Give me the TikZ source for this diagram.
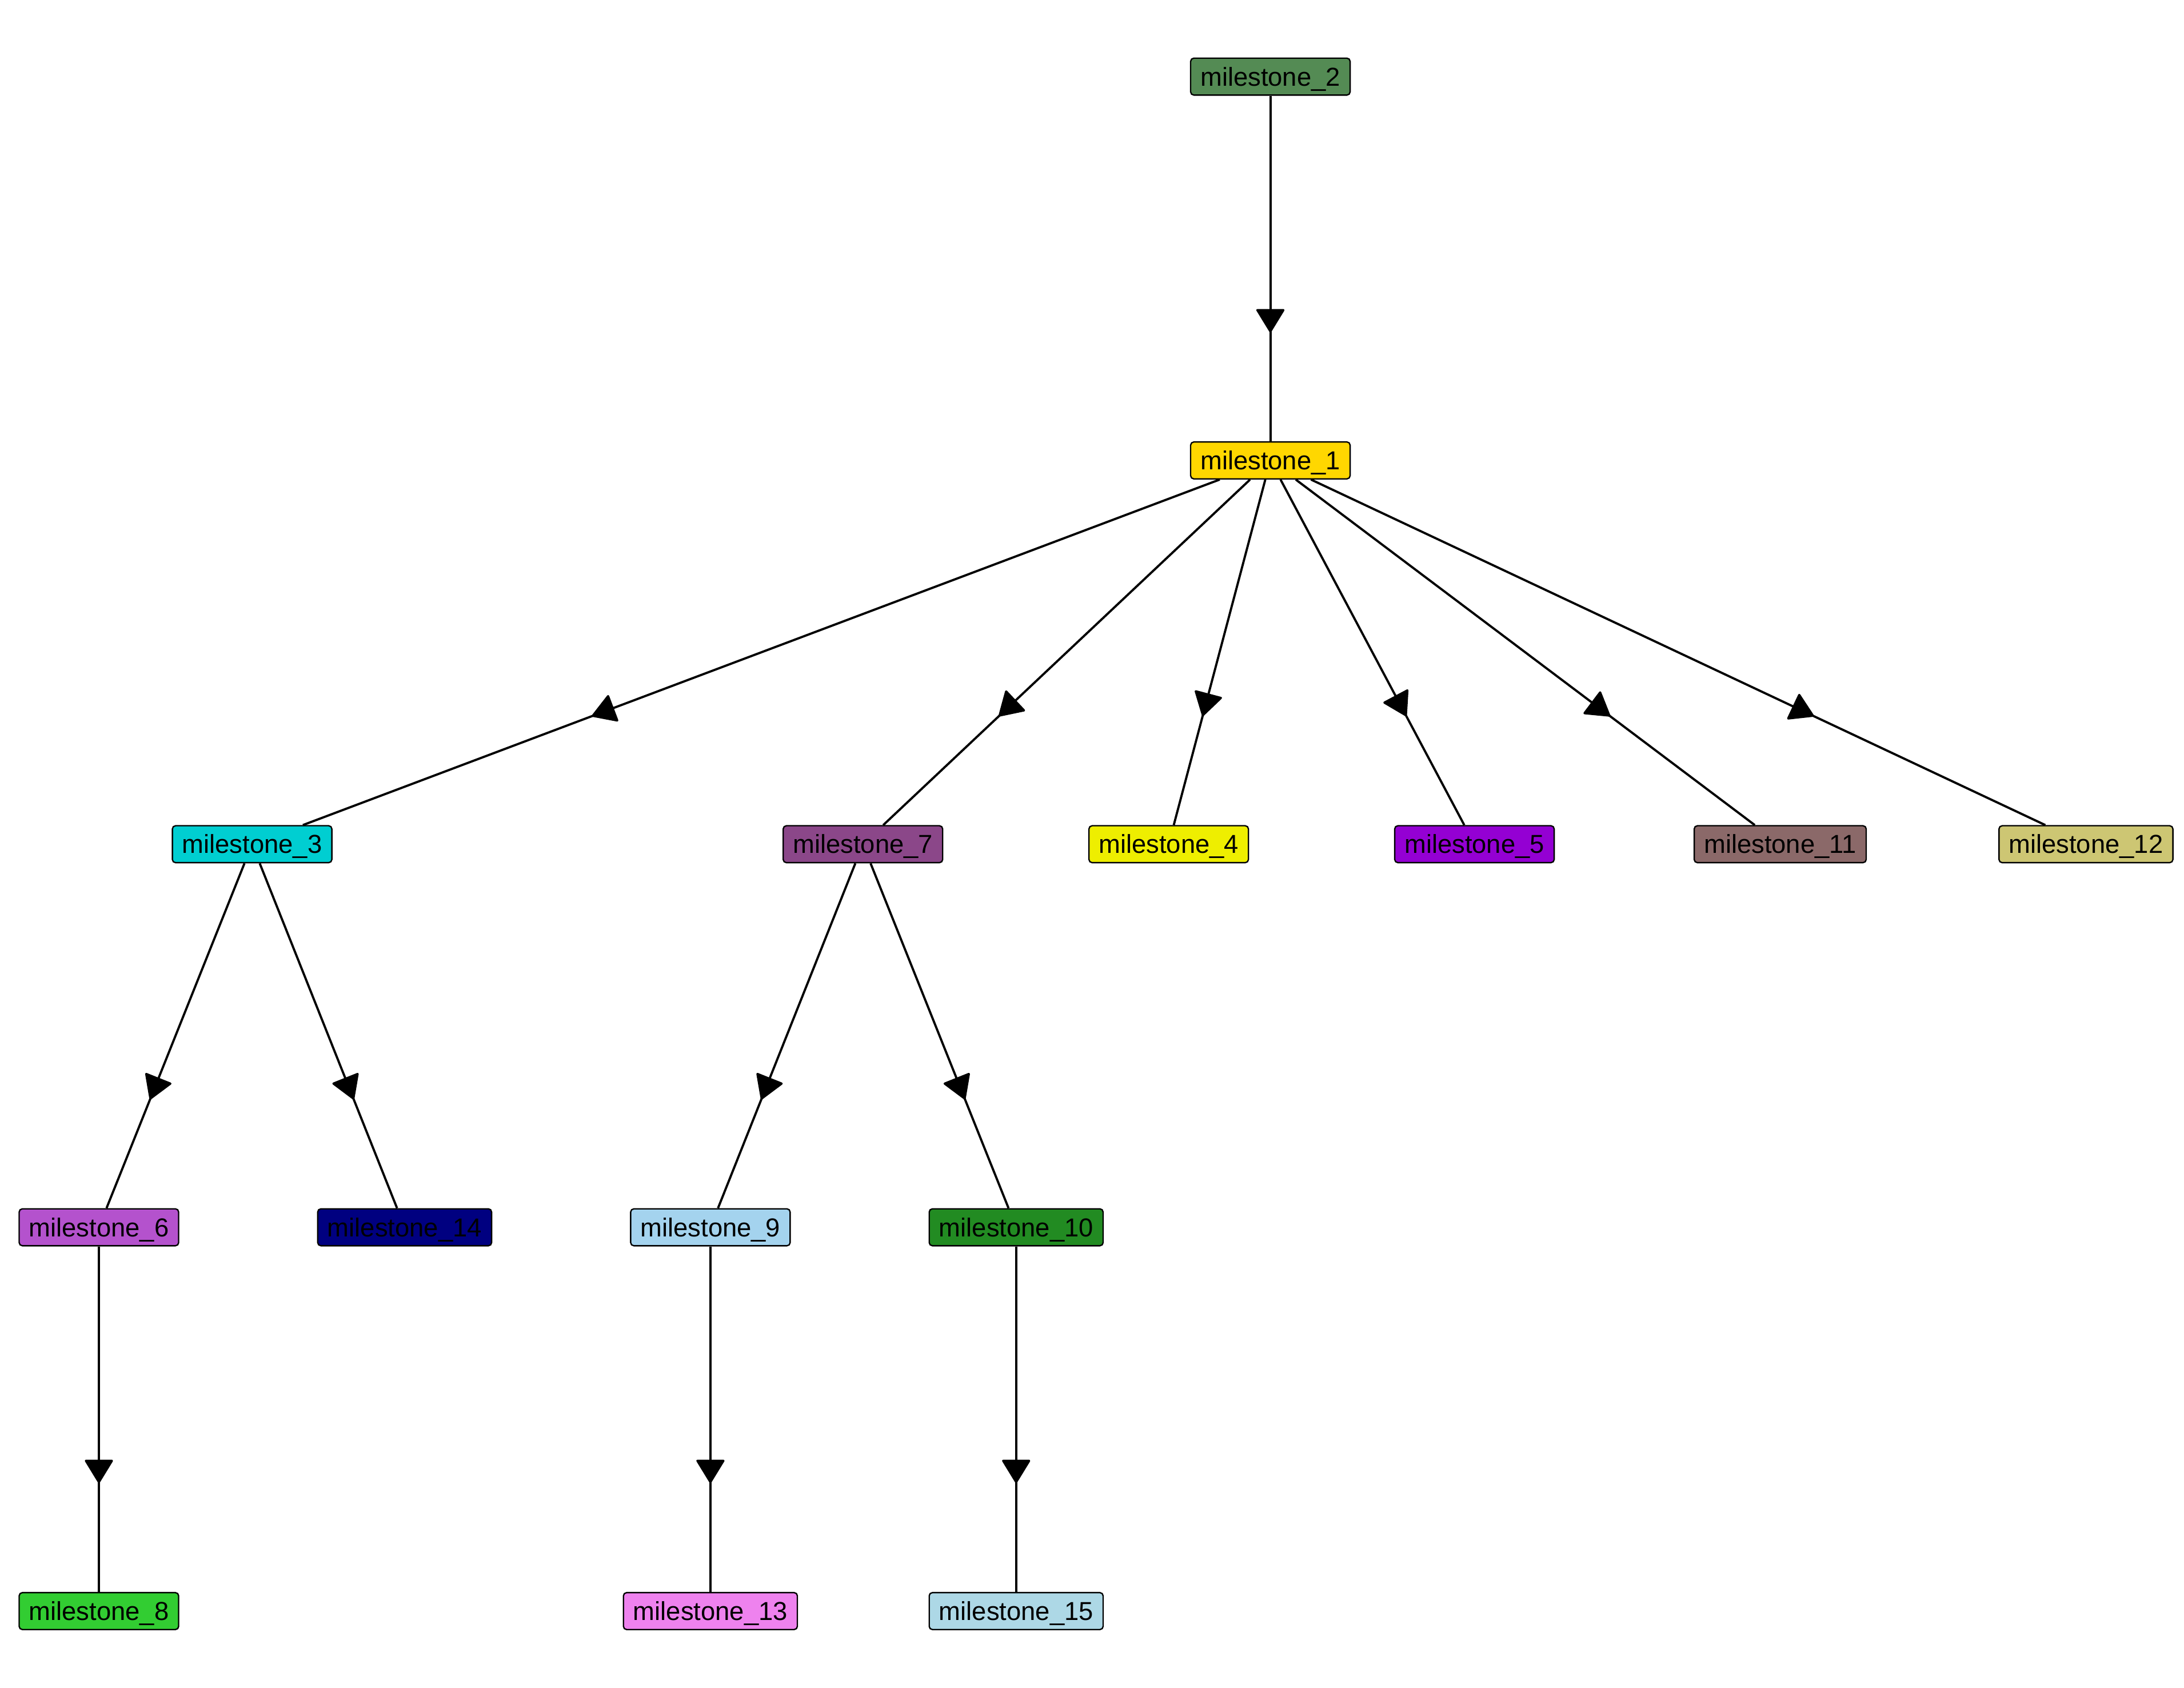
\documentclass[tikz,border=0pt]{standalone}
\usepackage{fontspec}
\setmainfont{Liberation Sans}
\usepackage{tikz}
\usetikzlibrary{arrows.meta, decorations.markings}

\definecolor{palegreenfour}{HTML}{548B54}
\definecolor{goldc}{HTML}{FFD700}
\definecolor{darkturq}{HTML}{00CED1}
\definecolor{orchidfour}{HTML}{8B4789}
\definecolor{yellowtwo}{HTML}{EEEE00}
\definecolor{darkviol}{HTML}{9400D3}
\definecolor{rosybrownfour}{HTML}{8B6969}
\definecolor{khakithree}{HTML}{CDC673}
\definecolor{medorchid}{HTML}{B452CD}
\definecolor{navyc}{HTML}{000080}
\definecolor{skybluetwo}{HTML}{A4D3EE}
\definecolor{forestg}{HTML}{228B22}
\definecolor{limeg}{HTML}{32CD32}
\definecolor{violetc}{HTML}{EE82EE}
\definecolor{lightbluec}{HTML}{ADD8E6}

\begin{document}
\begin{tikzpicture}[
    ms/.style={draw=black, line width=0.55pt, rounded corners=1.3pt,
        minimum height=0.53cm, inner xsep=4pt, inner ysep=0pt,
        text height=0.75em, text depth=0pt, font=\fontsize{10.6}{12}\selectfont},
    edge/.style={line width=0.9pt, line join=round, postaction={decorate},
        decoration={markings, mark=at position 0.685 with {\arrow{Triangle[length=10pt,width=12pt,round]}}}}
]
    \useasboundingbox (0,0) rectangle (31.358,-24.234);

    % top
    \node[ms, fill=palegreenfour] (m2) at (18.24,-1.10) {milestone\_2};
    \node[ms, fill=goldc] (m1) at (18.24,-6.61) {milestone\_1};

    % third row
    \node[ms, fill=darkturq] (m3) at (3.62,-12.12) {milestone\_3};
    \node[ms, fill=orchidfour] (m7) at (12.39,-12.12) {milestone\_7};
    \node[ms, fill=yellowtwo] (m4) at (16.78,-12.12) {milestone\_4};
    \node[ms, fill=darkviol] (m5) at (21.17,-12.12) {milestone\_5};
    \node[ms, fill=rosybrownfour] (m11) at (25.56,-12.12) {milestone\_11};
    \node[ms, fill=khakithree] (m12) at (29.95,-12.12) {milestone\_12};

    % fourth row
    \node[ms, fill=medorchid] (m6) at (1.42,-17.62) {milestone\_6};
    \node[ms, fill=navyc] (m14) at (5.81,-17.62) {milestone\_14};
    \node[ms, fill=skybluetwo] (m9) at (10.20,-17.62) {milestone\_9};
    \node[ms, fill=forestg] (m10) at (14.59,-17.62) {milestone\_10};

    % bottom
    \node[ms, fill=limeg] (m8) at (1.42,-23.13) {milestone\_8};
    \node[ms, fill=violetc] (m13) at (10.20,-23.13) {milestone\_13};
    \node[ms, fill=lightbluec] (m15) at (14.59,-23.13) {milestone\_15};

    \draw[edge] (m2)--(m1);
    \draw[edge] (m1)--(m3);
    \draw[edge] (m1)--(m7);
    \draw[edge] (m1)--(m4);
    \draw[edge] (m1)--(m5);
    \draw[edge] (m1)--(m11);
    \draw[edge] (m1)--(m12);
    \draw[edge] (m3)--(m6);
    \draw[edge] (m3)--(m14);
    \draw[edge] (m7)--(m9);
    \draw[edge] (m7)--(m10);
    \draw[edge] (m6)--(m8);
    \draw[edge] (m9)--(m13);
    \draw[edge] (m10)--(m15);
\end{tikzpicture}
\end{document}
